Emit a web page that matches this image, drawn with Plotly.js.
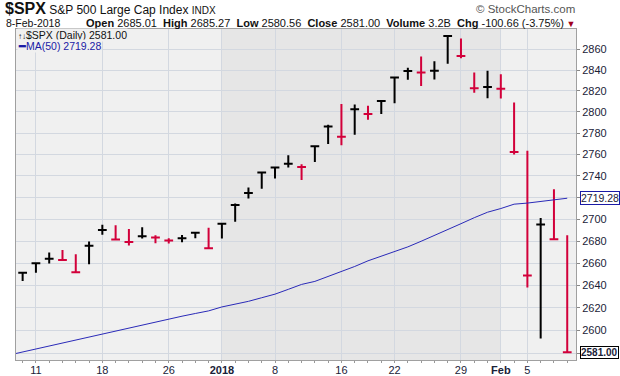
<!DOCTYPE html>
<html><head><meta charset="utf-8">
<script src="https://cdn.plot.ly/plotly-3.0.1.min.js"></script>
<style>html,body{margin:0;padding:0;background:#fff}#chart{width:620px;height:376px}</style>
</head><body><div id="chart"></div>
<script>
const dates = ['2017-12-08','2017-12-11','2017-12-12','2017-12-13','2017-12-14','2017-12-15',
  '2017-12-18','2017-12-19','2017-12-20','2017-12-21','2017-12-22',
  '2017-12-26','2017-12-27','2017-12-28','2017-12-29',
  '2018-01-02','2018-01-03','2018-01-04','2018-01-05',
  '2018-01-08','2018-01-09','2018-01-10','2018-01-11','2018-01-12',
  '2018-01-16','2018-01-17','2018-01-18','2018-01-19',
  '2018-01-22','2018-01-23','2018-01-24','2018-01-25','2018-01-26',
  '2018-01-29','2018-01-30','2018-01-31','2018-02-01','2018-02-02',
  '2018-02-05','2018-02-06','2018-02-07','2018-02-08'];
const openP = [2646.21,2652.19,2661.73,2667.59,2665.87,2660.63,2685.92,2692.71,2688.18,2683.02,2684.22,
  2679.09,2682.10,2686.10,2689.15,2683.73,2697.85,2719.31,2731.33,2742.67,2751.15,2745.55,2752.97,2770.18,
  2798.96,2784.99,2802.40,2802.60,2809.16,2835.05,2845.42,2846.24,2847.48,2867.23,2832.74,2832.41,2816.45,
  2808.92,2741.06,2614.78,2690.95,2685.01];
const highP = [2651.65,2660.33,2669.72,2671.88,2668.09,2679.63,2694.97,2694.44,2691.01,2692.64,2685.35,
  2682.74,2685.64,2687.66,2692.12,2695.89,2714.37,2729.29,2743.45,2748.51,2759.14,2750.80,2767.56,2787.85,
  2807.54,2807.04,2805.83,2810.33,2833.03,2842.24,2852.97,2848.56,2872.87,2870.62,2837.75,2839.26,2835.96,
  2808.92,2763.39,2701.04,2727.67,2685.27];
const lowP = [2644.10,2651.47,2659.78,2662.85,2652.01,2659.14,2685.92,2680.74,2676.11,2682.40,2678.13,
  2677.96,2678.91,2682.69,2673.61,2682.36,2697.77,2719.07,2727.92,2737.60,2747.86,2736.06,2752.78,2769.64,
  2768.64,2778.38,2792.56,2798.08,2808.12,2830.59,2824.81,2830.94,2846.18,2851.48,2818.27,2813.04,2812.70,
  2759.97,2638.17,2593.07,2681.33,2580.56];
const closeP = [2651.50,2659.99,2664.11,2662.85,2652.01,2675.81,2690.16,2681.47,2679.25,2684.57,2683.34,
  2680.50,2682.62,2687.54,2673.61,2695.81,2713.06,2723.99,2743.15,2747.71,2751.29,2748.23,2767.56,2786.24,
  2776.42,2802.56,2798.03,2810.30,2832.97,2839.13,2837.54,2839.25,2872.87,2853.53,2822.43,2823.81,2821.98,
  2762.13,2648.94,2695.14,2681.66,2581.00];
const prevClose = 2636.98;
// MA(50) values, starting one session before the first bar (Dec 7)
const ma50 = [2578.6,2581.2,2583.9,2586.5,2589.2,2592.0,2594.6,2597.3,2600.1,2602.6,2605.3,2607.9,
  2610.4,2612.7,2615.1,2617.4,2620.9,2623.3,2625.9,2629.1,2632.3,2636.6,2641.0,2643.7,2648.0,2652.2,
  2657.1,2662.2,2666.5,2670.9,2674.8,2679.9,2685.0,2690.4,2695.9,2701.4,2706.4,2709.8,2713.8,2714.8,
  2716.3,2718.0,2719.28];
const volumeText = '3.2B';
const yTicks = [2580,2600,2620,2640,2660,2680,2700,2720,2740,2760,2780,2800,2820,2840,2860];
const yHidden = [2580,2720];
const monthNames = ['Jan','Feb','Mar','Apr','May','Jun','Jul','Aug','Sep','Oct','Nov','Dec'];

const W=620,H=376, ML=16, MR=44, MT=29, MB=16;
const PW=W-ML-MR, PH=H-MT-MB;
const px = v => (v-ML)/PW;
const py = v => 1-(v-MT)/PH;

const idx = dates.map((d,i)=>i);
const maX = ma50.map((v,i)=>i-1);
const dObj = dates.map(d=>new Date(d+'T12:00:00Z'));

const tickV=[], tickT=[], monthStarts=[];
for(let i=1;i<dates.length;i++){
  const a=dObj[i-1], b=dObj[i];
  const newMonth = a.getUTCMonth()!==b.getUTCMonth();
  const newWeek = b.getUTCDay()<=a.getUTCDay() || (b-a)>4*864e5;
  if(newMonth){
    monthStarts.push(i);
    tickV.push(i);
    tickT.push('<b>'+(b.getUTCMonth()===0 ? b.getUTCFullYear() : monthNames[b.getUTCMonth()])+'</b>');
  } else if(newWeek){
    tickV.push(i); tickT.push(String(b.getUTCDate()));
  }
}

const upI=[], dnI=[];
closeP.forEach((c,i)=>{ const p = i===0?prevClose:closeP[i-1]; (c>=p?upI:dnI).push(i); });
function barTrace(list,color){
  return {type:'ohlc', x:list.map(i=>idx[i]), open:list.map(i=>closeP[i]), high:list.map(i=>highP[i]),
    low:list.map(i=>lowP[i]), close:list.map(i=>closeP[i]), tickwidth:0.33,
    increasing:{line:{color:color,width:2}}, decreasing:{line:{color:color,width:2}},
    hoverinfo:'skip', showlegend:false};
}
const RED='#d2003a';
const traces=[
  {type:'scatter', mode:'lines', x:maX, y:ma50, line:{color:'#2a2ab8',width:1}, hoverinfo:'skip', showlegend:false},
  barTrace(upI,'#000000'),
  barTrace(dnI,RED)
];

const yLog = v=>Math.log10(v);
const shapes=[];
for(let k=0;k<monthStarts.length;k+=2){
  const s=monthStarts[k], e = k+1<monthStarts.length ? monthStarts[k+1] : dates.length-1;
  shapes.push({type:'rect', xref:'x', yref:'paper', x0:idx[s], x1:idx[e], y0:0, y1:1,
    fillcolor:'#e6e6e6', line:{width:0}, layer:'below'});
}

const F='Liberation Sans, Arial, sans-serif';
const TXT='#1a2238';
const last = closeP.length-1;
const fmtDate = d => d.getUTCDate()+'-'+monthNames[d.getUTCMonth()]+'-'+d.getUTCFullYear();
const chg = closeP[last]-closeP[last-1];
const sp = '\u00a0\u00a0';
const annotations=[
  {xref:'paper',yref:'paper',x:px(3),y:py(8.5),xanchor:'left',yanchor:'middle',showarrow:false,
   text:'<span style="font-size:16px"><b>$SPX</b></span> S&amp;P 500 Large Cap Index <span style="font-size:10px">INDX</span>',
   font:{family:F,size:12,color:'#111'}},
  {xref:'paper',yref:'paper',x:px(577),y:py(9),xanchor:'right',yanchor:'middle',showarrow:false,
   text:'© StockCharts.com', font:{family:F,size:11.5,color:'#555'}},
  {xref:'paper',yref:'paper',x:px(4),y:py(23),xanchor:'left',yanchor:'middle',showarrow:false,
   text:fmtDate(dObj[last]), font:{family:F,size:10.5,color:'#111'}},
  {xref:'paper',yref:'paper',x:px(577),y:py(23),xanchor:'right',yanchor:'middle',showarrow:false,
   text:'<b>Open</b> '+openP[last].toFixed(2)+sp+'<b>High</b> '+highP[last].toFixed(2)+
        sp+'<b>Low</b> '+lowP[last].toFixed(2)+sp+'<b>Close</b> '+closeP[last].toFixed(2)+
        sp+'<b>Volume</b> '+volumeText+sp+'<b>Chg</b> '+chg.toFixed(2)+
        ' ('+((closeP[last]/closeP[last-1]-1)*100).toFixed(2)+'%)<span style="color:#a0001e;font-size:9px"> ▼</span>',
   font:{family:F,size:11,color:'#111'}},
  {xref:'paper',yref:'paper',x:px(17),y:py(35),xanchor:'left',yanchor:'middle',showarrow:false,
   text:'<span style="font-size:8px">↑↓</span>$SPX (Daily) '+closeP[last].toFixed(2), font:{family:F,size:10.5,color:'#111'},
   bgcolor:'#f0f0f0', borderpad:0},
  {xref:'paper',yref:'paper',x:px(17),y:py(46),xanchor:'left',yanchor:'middle',showarrow:false,
   text:'<b>━</b>MA(50) '+ma50[ma50.length-1].toFixed(2), font:{family:F,size:10.5,color:'#1a1aa6'},
   bgcolor:'#f0f0f0', borderpad:0},
  {xref:'paper',yref:'y',x:1,y:yLog(ma50[ma50.length-1]),xanchor:'left',yanchor:'middle',xshift:4,showarrow:false,
   text:ma50[ma50.length-1].toFixed(2), font:{family:F,size:10.5,color:TXT}, bgcolor:'#ffffff',
   bordercolor:'#1a1aa6', borderwidth:1, borderpad:0},
  {xref:'paper',yref:'y',x:1,y:yLog(closeP[last]),xanchor:'left',yanchor:'middle',xshift:4,showarrow:false,
   text:'<b>'+closeP[last].toFixed(2)+'</b>', font:{family:F,size:10,color:TXT}, bgcolor:'#ffffff',
   bordercolor:'#000000', borderwidth:1, borderpad:0}
];

const layout={
  width:W,height:H,margin:{l:ML,r:MR,t:MT,b:MB},
  paper_bgcolor:'#ffffff', plot_bgcolor:'#f0f0f0',
  showlegend:false, dragmode:false,
  xaxis:{type:'linear', range:[-0.5,41.66], tickmode:'array', tickvals:tickV, ticktext:tickT,
    showgrid:true, gridcolor:'#d3d8e0', gridwidth:1, zeroline:false,
    showline:true, linecolor:'#a0a0a0', mirror:true, ticks:'', ticklen:0,
    tickfont:{family:F,size:11,color:TXT}, rangeslider:{visible:false}, fixedrange:true,
    minor:{tickmode:'linear', tick0:0, dtick:1, ticks:'outside', ticklen:2, tickcolor:'#999', showgrid:false}},
  yaxis:{type:'log', side:'right', range:[Math.log10(2574.2),Math.log10(2879.8)],
    tickmode:'array', tickvals:yTicks, ticktext:yTicks.map(v=>yHidden.includes(v)?'':String(v)),
    showgrid:true, gridcolor:'#d3d8e0', gridwidth:1, zeroline:false,
    showline:true, linecolor:'#a0a0a0', mirror:true, ticks:'outside', ticklen:3, tickcolor:'#888',
    tickfont:{family:F,size:11,color:TXT}, fixedrange:true},
  shapes:shapes, annotations:annotations
};
Plotly.newPlot('chart',traces,layout,{displayModeBar:false,staticPlot:true});
</script></body></html>
